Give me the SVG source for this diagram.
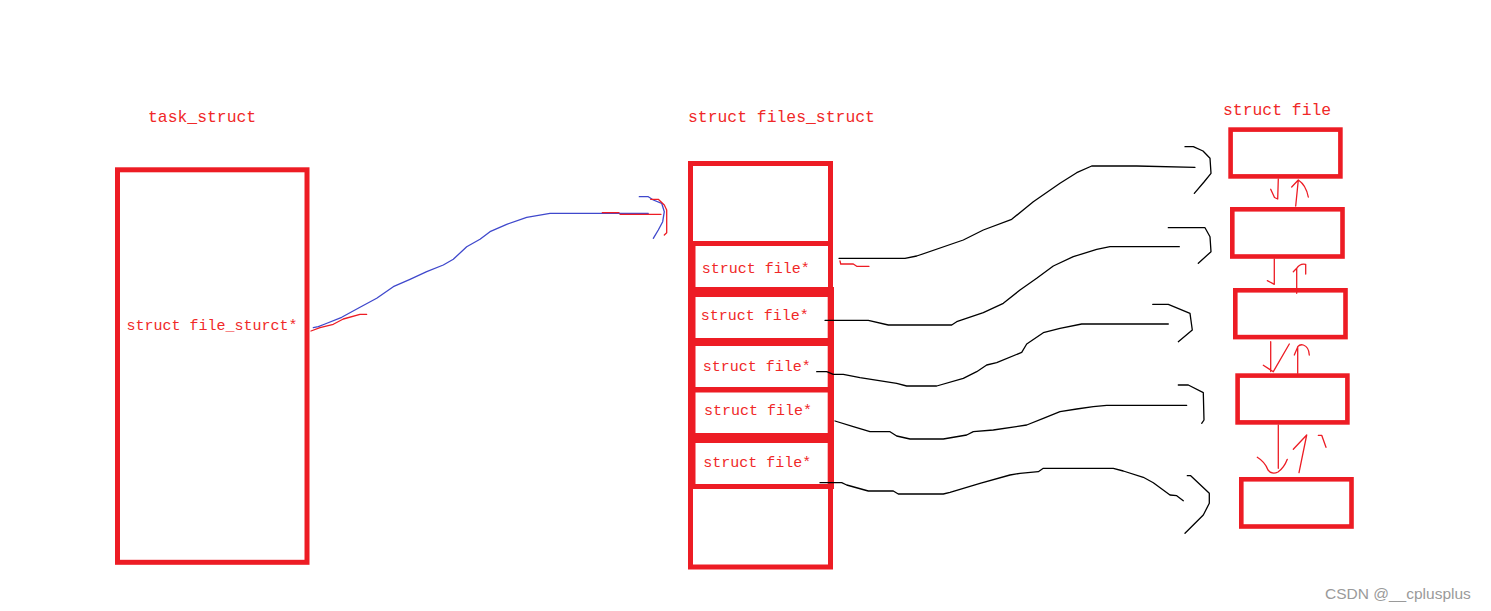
<svg xmlns="http://www.w3.org/2000/svg" width="1491" height="611" viewBox="0 0 1491 611">
<style>
.box{fill:none;stroke:#ED1C24;stroke-width:5}
.sbox{fill:none;stroke:#ED1C24;stroke-width:4.6}
.band{fill:#ED1C24}
.lbl{font-family:"Liberation Mono",monospace;fill:#F02828}
.blk{fill:none;stroke:#000;stroke-width:1.3;stroke-linejoin:round;stroke-linecap:round}
.red{fill:none;stroke:#ED1C24;stroke-width:1.3;stroke-linejoin:round;stroke-linecap:round}
.blue{fill:none;stroke:#3F48CC;stroke-width:1.3;stroke-linejoin:round;stroke-linecap:round}
</style>
<rect width="1491" height="611" fill="#fff"/>

<g id="task_struct">
  <text class="lbl" x="148" y="122" font-size="16.4">task_struct</text>
  <rect class="box" x="117.5" y="169.8" width="189.5" height="392.5"/>
  <text class="lbl" x="126.5" y="330" font-size="15">struct file_sturct*</text>
</g>

<g id="files_struct">
  <text class="lbl" x="688" y="122" font-size="16.4">struct files_struct</text>
  <rect class="box" x="690.5" y="163.5" width="140" height="403.5"/>
  <rect class="band" x="688" y="241" width="145" height="5"/>
  <rect class="band" x="688" y="287" width="146" height="10"/>
  <rect class="band" x="688" y="338" width="146" height="8"/>
  <rect class="band" x="688" y="387" width="146" height="5.5"/>
  <rect class="band" x="688" y="433" width="146" height="10"/>
  <rect class="band" x="688" y="484" width="146" height="5"/>
  <rect class="band" x="688" y="241" width="7.5" height="248"/>
  <rect class="band" x="827.7" y="287" width="6.3" height="202"/>
  <text class="lbl" x="701.7" y="273" font-size="15">struct file*</text>
  <text class="lbl" x="700.7" y="319.5" font-size="15">struct file*</text>
  <text class="lbl" x="702.7" y="370.5" font-size="15">struct file*</text>
  <text class="lbl" x="704" y="415" font-size="15">struct file*</text>
  <text class="lbl" x="703.3" y="466.5" font-size="15">struct file*</text>
</g>

<g id="struct_file">
  <text class="lbl" x="1223" y="115" font-size="16.4">struct file</text>
  <rect class="sbox" x="1230.6" y="129.6" width="109.8" height="46.8"/>
  <rect class="sbox" x="1232.3" y="209.3" width="110.2" height="47.2"/>
  <rect class="sbox" x="1235.3" y="290.3" width="110.2" height="46.8"/>
  <rect class="sbox" x="1237.6" y="375.6" width="109.8" height="46.8"/>
  <rect class="sbox" x="1241.3" y="479.3" width="110.2" height="47.2"/>
</g>

<g id="connectors">
  <!-- task_struct -> files_struct (blue + red) -->
  <path class="blue" d="M313.3,327.7 L318.3,326.7 L325,324 L341.7,317.3 L360,307.3 L376.7,298.3 L393.3,286.7 L410,279.3 L426.7,271.7 L443.3,265 L453.3,259.3 L466.7,246.7 L480,239.3 L490,231.7 L506.7,224.3 L526.7,217.3 L550,213.3 L648.3,213.3"/>
  <path class="blue" d="M639.3,196.7 L648.3,196.7 L653.3,200 L661.7,203.3 L664.3,211.7 L662.7,221.7 L658.3,230 L653.3,238.3"/>
  <path class="red" d="M311,331 L320,327.7 L333.3,324.3 L343.3,319 L360,314.3 L366.7,314.3"/>
  <path class="red" d="M602.3,212.7 L619,212.7 M620,214.3 L661,214.3"/>
  <path class="red" d="M650.7,199.3 L658.3,199.3 L664.3,205 L666.7,210 L666.7,232.7 L664.3,235"/>

  <!-- curve A -->
  <path class="blk" d="M839,258.3 L905,258.3 L916.7,256 L963.3,240 L983.3,230 L1011.7,219.3 L1033.3,201.7 L1060,183.3 L1076.7,172.7 L1091.7,166 L1136.7,166 L1195,167.3"/>
  <path class="blk" d="M1185,146.7 L1193.3,146.7 L1203,151 L1210,158.3 L1211,173.3 L1204,182 L1194.3,193.3"/>
  <path class="red" d="M840,261 L840.7,264 L853.3,264 L856.7,266.3 L869,266.3"/>

  <!-- curve B -->
  <path class="blk" d="M825,320.3 L868.3,320.3 L888.3,325 L951.7,325 L956.7,321.7 L983.3,312.7 L1003.3,303.3 L1020,290 L1036.7,278.3 L1053.3,266 L1073.3,256.7 L1096.7,249.3 L1110,246.7 L1179.3,246.7"/>
  <path class="blk" d="M1168.3,227.7 L1205,227.7 L1210,236.7 L1211,251.7 L1198.3,263.3"/>

  <!-- curve C -->
  <path class="blk" d="M816.7,371.7 L826.7,371.7 L833.3,374.3 L843.3,374.3 L860,377.7 L896.7,383.3 L906.7,386 L936.7,386 L963.3,378.3 L976.7,371.7 L986.7,365 L996.7,362.7 L1021.7,352.3 L1026.7,344 L1043.3,332.7 L1060,328.3 L1081.7,324 L1168.3,324"/>
  <path class="blk" d="M1152.7,304.3 L1168.3,304.3 L1190,313.3 L1192.3,330 L1178.3,341.7"/>

  <!-- curve D -->
  <path class="blk" d="M835,421 L853.3,426.7 L870,431.7 L890,431.7 L896.7,436 L910,439 L943.3,439 L966.7,435 L973.3,431.7 L993.3,430 L1026.7,425 L1043.3,418.3 L1060,411.7 L1076.7,409 L1093.3,406.7 L1106.7,405.3 L1186.7,405.3"/>
  <path class="blk" d="M1178.3,385 L1188.3,385 L1203.3,392.7 L1204,420 L1201.7,423.3"/>

  <!-- curve E -->
  <path class="blk" d="M820,482.7 L841.7,482.7 L846.7,485 L868.3,491 L893.3,491 L898.3,494 L943.3,494 L950,492.3 L980,483.3 L1010,475 L1020,473.3 L1038.3,471.7 L1043.3,468.3 L1113.3,468.3 L1123.3,471 L1143.3,477.3 L1153.3,482.7 L1170,495 L1176.7,495.7 L1183.3,500.7"/>
  <path class="blk" d="M1187.3,475.7 L1190.7,475.7 L1209.3,493.3 L1209.3,503.3 L1203.3,515 L1185,533.3"/>

  <!-- arrows between struct file boxes -->
  <path class="red" d="M1278.3,179 L1277.7,199 L1274.5,197.5 L1270.7,189.3"/>
  <path class="red" d="M1295.7,206 L1298.3,180 M1291.7,187 L1298.3,180 Q1306,185 1308.3,197"/>

  <path class="red" d="M1274.3,259 L1274.3,284.3 L1267.3,280.7"/>
  <path class="red" d="M1296.7,293.3 L1296.7,268.3 Q1300,263 1305.7,264.3 L1305.7,274 M1293.3,271.7 L1296.7,268.3"/>

  <path class="red" d="M1270.7,341.7 L1270.7,371.5 M1289.3,344 L1273.3,371.7 L1263.3,365.3"/>
  <path class="red" d="M1297.7,373.3 L1297.7,346.7 Q1300,344 1303.3,345 Q1309,347 1309.3,355 M1294.3,355 L1297.7,347"/>

  <path class="red" d="M1278.3,425 L1278.3,468.3 M1257.3,457.3 Q1265,462 1268,470 Q1272,475 1278,472 Q1284,468 1287.3,459.3"/>
  <path class="red" d="M1299,472.7 L1306.7,435 M1293.3,449.3 L1306.7,435 M1318.3,435.3 L1321.7,435.3 L1326,447.3"/>
</g>

<text x="1325" y="599" font-family="Liberation Sans, Arial, sans-serif" font-size="15.5" fill="#9a9a9a">CSDN @__cplusplus</text>
</svg>
